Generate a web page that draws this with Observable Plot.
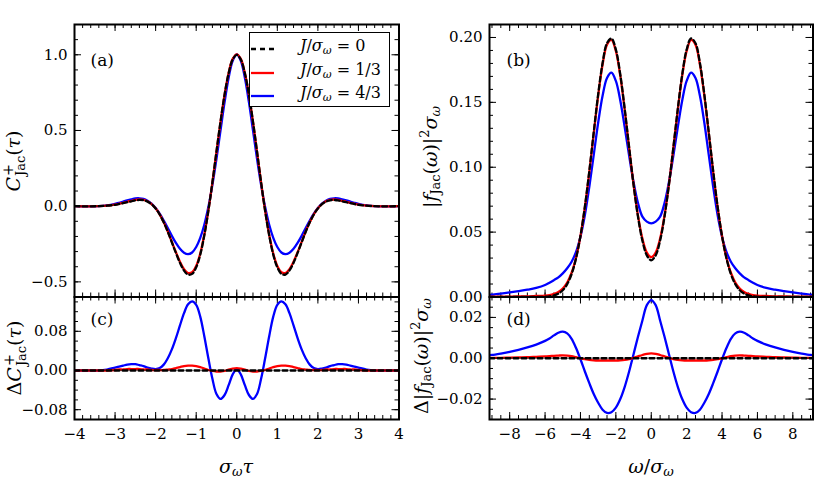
<!DOCTYPE html>
<html><head><meta charset="utf-8">
<script src="https://cdn.jsdelivr.net/npm/d3@7"></script>
<script src="https://cdn.jsdelivr.net/npm/@observablehq/plot@0.6"></script>
<style>
body{margin:0;background:#fff;}
#fig{position:relative;width:830px;height:493px;overflow:hidden;font-family:"DejaVu Serif",serif;background:#fff;}
#fig svg{position:absolute;left:0;top:0;}
.lab{position:absolute;white-space:nowrap;font-size:19px;line-height:1;color:#000;}
.rot{transform:translate(-50%,-50%) rotate(-90deg);}
.hor{transform:translate(-50%,-50%);}
.ss{display:inline-flex;flex-direction:column;vertical-align:middle;font-size:0.68em;line-height:1.0;margin-left:1px;}
.ss span:first-child{font-size:1.1em;}
sub{font-size:0.68em;vertical-align:-0.3em;line-height:0;}
sup{font-size:0.68em;vertical-align:0.55em;line-height:0;}
#legend{position:absolute;left:249px;top:32px;width:141px;height:75px;box-sizing:border-box;border:1.8px solid #000;background:#fff;z-index:5;}
.row{position:absolute;left:0;height:0;width:100%;}
.row svg{position:absolute;left:10px;top:-3px;}
.row .t{position:absolute;left:50px;top:0;transform:translateY(-50%);font-size:16px;line-height:1;white-space:nowrap;}
</style></head>
<body>
<div id="fig"></div>
<script>
// ---------------- data ----------------
const tau = [-4.0,-3.8,-3.6,-3.4,-3.2,-3.0,-2.9,-2.8,-2.7,-2.6,-2.5,-2.4,-2.3,-2.2,-2.1,-2.0,-1.9,-1.8,-1.7,-1.6,-1.5,-1.4,-1.3,-1.2,-1.1,-1.0,-0.9,-0.8,-0.7,-0.6,-0.5,-0.4,-0.3,-0.2,-0.1,0,0.1,0.2,0.3,0.4,0.5,0.6,0.7,0.8,0.9,1.0,1.1,1.2,1.3,1.4,1.5,1.6,1.7,1.8,1.9,2.0,2.1,2.2,2.3,2.4,2.5,2.6,2.7,2.8,2.9,3.0,3.2,3.4,3.6,3.8,4.0];

// (a) C+_Jac(tau), J/sigma = 0, 1/3, 4/3
const aBlack = [0.000,-0.001,-0.001,0.000,0.003,0.009,0.014,0.020,0.026,0.032,0.038,0.041,0.039,0.030,0.013,-0.015,-0.055,-0.107,-0.169,-0.239,-0.309,-0.374,-0.425,-0.452,-0.447,-0.404,-0.320,-0.193,-0.031,0.158,0.361,0.559,0.737,0.878,0.969,1.000,0.969,0.878,0.737,0.559,0.361,0.158,-0.031,-0.193,-0.320,-0.404,-0.447,-0.452,-0.425,-0.374,-0.309,-0.239,-0.169,-0.107,-0.055,-0.015,0.013,0.030,0.039,0.041,0.038,0.032,0.026,0.020,0.014,0.009,0.003,0.000,-0.001,-0.001,0.000];
const aRed = [0.000,-0.001,-0.001,0.000,0.003,0.010,0.016,0.022,0.029,0.035,0.041,0.044,0.041,0.032,0.014,-0.014,-0.054,-0.106,-0.167,-0.236,-0.304,-0.367,-0.416,-0.442,-0.437,-0.395,-0.313,-0.189,-0.030,0.157,0.359,0.557,0.736,0.880,0.973,1.003,0.973,0.880,0.736,0.557,0.359,0.157,-0.030,-0.189,-0.313,-0.395,-0.437,-0.442,-0.416,-0.367,-0.304,-0.236,-0.167,-0.106,-0.054,-0.014,0.014,0.032,0.041,0.044,0.041,0.035,0.029,0.022,0.016,0.010,0.003,0.000,-0.001,-0.001,0.000];
const aBlue = [0.000,-0.001,-0.001,0.000,0.005,0.015,0.022,0.030,0.038,0.045,0.051,0.052,0.048,0.036,0.017,-0.012,-0.050,-0.095,-0.144,-0.196,-0.243,-0.282,-0.308,-0.317,-0.306,-0.270,-0.210,-0.123,-0.006,0.141,0.313,0.501,0.687,0.848,0.961,1.002,0.961,0.848,0.687,0.501,0.313,0.141,-0.006,-0.123,-0.210,-0.270,-0.306,-0.317,-0.308,-0.282,-0.243,-0.196,-0.144,-0.095,-0.050,-0.012,0.017,0.036,0.048,0.052,0.051,0.045,0.038,0.030,0.022,0.015,0.005,0.000,-0.001,-0.001,0.000];

// (c) Delta C+_Jac(tau)
const cZeroT = [-4, 4];
const cZeroV = [0, 0];
const cRed = [0.000,0.000,0.000,0.000,0.000,0.001,0.002,0.002,0.003,0.003,0.003,0.003,0.002,0.002,0.001,0.001,0.001,0.001,0.002,0.003,0.005,0.007,0.009,0.010,0.010,0.009,0.007,0.004,0.001,-0.001,-0.002,-0.002,-0.001,0.002,0.004,0.005,0.004,0.002,-0.001,-0.002,-0.002,-0.001,0.001,0.004,0.007,0.009,0.010,0.010,0.009,0.007,0.005,0.003,0.002,0.001,0.001,0.001,0.001,0.002,0.002,0.003,0.003,0.003,0.003,0.002,0.002,0.001,0.000,0.000,0.000,0.000,0.000];
const cBlue = [0.000,0.000,0.000,0.000,0.002,0.006,0.008,0.010,0.012,0.013,0.013,0.011,0.009,0.006,0.004,0.003,0.005,0.012,0.025,0.043,0.066,0.092,0.117,0.135,0.141,0.134,0.110,0.070,0.025,-0.017,-0.048,-0.058,-0.050,-0.030,-0.008,0.003,-0.008,-0.030,-0.050,-0.058,-0.048,-0.017,0.025,0.070,0.110,0.134,0.141,0.135,0.117,0.092,0.066,0.043,0.025,0.012,0.005,0.003,0.004,0.006,0.009,0.011,0.013,0.013,0.012,0.010,0.008,0.006,0.002,0.000,0.000,0.000,0.000];

const omega = [-9.14,-9,-8.5,-8,-7.5,-7,-6.5,-6,-5.75,-5.5,-5.25,-5,-4.75,-4.5,-4.25,-4,-3.75,-3.5,-3.25,-3,-2.75,-2.5,-2.25,-2,-1.75,-1.5,-1.25,-1,-0.75,-0.5,-0.25,0,0.25,0.5,0.75,1,1.25,1.5,1.75,2,2.25,2.5,2.75,3,3.25,3.5,3.75,4,4.25,4.5,4.75,5,5.25,5.5,5.75,6,6.5,7,7.5,8,8.5,9,9.14];

// (b) |f_Jac(omega)|^2 sigma
const bBlack = [0,0,0,0,0,0,0.0001,0.0002,0.0005,0.0012,0.0026,0.0052,0.0099,0.0177,0.0298,0.0470,0.0697,0.0971,0.1270,0.1561,0.1803,0.1956,0.1993,0.1907,0.1715,0.1450,0.1154,0.0866,0.0619,0.0434,0.0321,0.0283,0.0321,0.0434,0.0619,0.0866,0.1154,0.1450,0.1715,0.1907,0.1993,0.1956,0.1803,0.1561,0.1270,0.0971,0.0697,0.0470,0.0298,0.0177,0.0099,0.0052,0.0026,0.0012,0.0005,0.0002,0.0001,0,0,0,0,0,0];
const bRed = [0.0002,0.0002,0.0002,0.0003,0.0004,0.0005,0.0008,0.0011,0.0015,0.0024,0.0039,0.0066,0.0112,0.0187,0.0303,0.0470,0.0693,0.0963,0.1260,0.1550,0.1792,0.1945,0.1982,0.1896,0.1705,0.1442,0.1150,0.0868,0.0628,0.0450,0.0343,0.0307,0.0343,0.0450,0.0628,0.0868,0.1150,0.1442,0.1705,0.1896,0.1982,0.1945,0.1792,0.1550,0.1260,0.0963,0.0693,0.0470,0.0303,0.0187,0.0112,0.0066,0.0039,0.0024,0.0015,0.0011,0.0008,0.0005,0.0004,0.0003,0.0002,0.0002,0.0002];
const bBlue = [0.0017,0.0019,0.0026,0.0035,0.0045,0.0056,0.0070,0.0092,0.0110,0.0130,0.0151,0.0182,0.0221,0.0272,0.0348,0.0465,0.0632,0.0849,0.1095,0.1343,0.1551,0.1688,0.1729,0.1665,0.1515,0.1310,0.1089,0.0886,0.0724,0.0619,0.0581,0.0568,0.0581,0.0619,0.0724,0.0886,0.1089,0.1310,0.1515,0.1665,0.1729,0.1688,0.1551,0.1343,0.1095,0.0849,0.0632,0.0465,0.0348,0.0272,0.0221,0.0182,0.0151,0.0130,0.0110,0.0092,0.0070,0.0056,0.0045,0.0035,0.0026,0.0019,0.0017];

// (d) Delta |f_Jac(omega)|^2 sigma
const dZeroW = [-9.14, 9.14];
const dZeroV = [0, 0];
const dRed = [0.0002,0.0002,0.0002,0.0003,0.0004,0.0005,0.0007,0.0009,0.0010,0.0012,0.0013,0.0014,0.0013,0.0010,0.0005,0.0000,-0.0004,-0.0008,-0.0010,-0.0011,-0.0011,-0.0011,-0.0011,-0.0011,-0.0010,-0.0008,-0.0004,0.0002,0.0009,0.0016,0.0022,0.0024,0.0022,0.0016,0.0009,0.0002,-0.0004,-0.0008,-0.0010,-0.0011,-0.0011,-0.0011,-0.0011,-0.0011,-0.0010,-0.0008,-0.0004,0.0000,0.0005,0.0010,0.0013,0.0014,0.0013,0.0012,0.0010,0.0009,0.0007,0.0005,0.0004,0.0003,0.0002,0.0002,0.0002];
const dBlue = [0.0015,0.0016,0.0023,0.0031,0.0041,0.0053,0.0067,0.0085,0.0097,0.0112,0.0125,0.0130,0.0122,0.0095,0.0050,-0.0005,-0.0065,-0.0122,-0.0175,-0.0218,-0.0252,-0.0268,-0.0264,-0.0242,-0.0200,-0.0140,-0.0065,0.0020,0.0105,0.0185,0.0260,0.0285,0.0260,0.0185,0.0105,0.0020,-0.0065,-0.0140,-0.0200,-0.0242,-0.0264,-0.0268,-0.0252,-0.0218,-0.0175,-0.0122,-0.0065,-0.0005,0.0050,0.0095,0.0122,0.0130,0.0125,0.0112,0.0097,0.0085,0.0067,0.0053,0.0041,0.0031,0.0023,0.0016,0.0015];

// tick labels
const tauTicks = [-4,-3,-2,-1,0,1,2,3,4];
const omegaTicks = [-8,-6,-4,-2,0,2,4,6,8];
const aYTicks = [-0.5,0.0,0.5,1.0];
const cYTicks = [-0.08,0.00,0.08];
const bYTicks = [0.00,0.05,0.10,0.15,0.20];
const dYTicks = [-0.02,0.00,0.02];
const legendLabels = ["0","1/3","4/3"];

// ---------------- drawing ----------------
const W = 830, H = 493;
const fmt = n => d => (d < -1e-9 ? "\u2212" : "") + Math.abs(d).toFixed(n);
const pairs = (xs, ys) => xs.map((x, i) => ({x, y: ys[i]}));

function panel(o) {
  const pw = o.x1 - o.x0, ph = o.y1 - o.y0;
  const tk = {stroke: "black", strokeWidth: 1};
  const marks = [
    Plot.tickX(o.xMin, {x: d => d, insetTop: ph - 4, ...tk}),
    Plot.tickX(o.xMin, {x: d => d, insetBottom: ph - 4, ...tk}),
    Plot.tickX(o.xMaj, {x: d => d, insetTop: ph - 7, ...tk}),
    Plot.tickX(o.xMaj, {x: d => d, insetBottom: ph - 7, ...tk}),
    Plot.tickY(o.yMin, {y: d => d, insetRight: pw - 4, ...tk}),
    Plot.tickY(o.yMin, {y: d => d, insetLeft: pw - 4, ...tk}),
    Plot.tickY(o.yMaj, {y: d => d, insetRight: pw - 7, ...tk}),
    Plot.tickY(o.yMaj, {y: d => d, insetLeft: pw - 7, ...tk})
  ];
  for (const s of o.series) {
    marks.push(Plot.line(s.data, {x: "x", y: "y", stroke: s.color, strokeWidth: 2.3,
      strokeDasharray: s.dash || null, curve: "catmull-rom", clip: true}));
  }
  marks.push(Plot.frame({stroke: "black", strokeWidth: 2}));
  marks.push(Plot.text([o.label], {text: d => d, frameAnchor: "top-left", textAnchor: "start",
    lineAnchor: "top", dx: o.ldx, dy: o.ldy, fontSize: 17, fill: "black"}));
  marks.push(Plot.axisY({ticks: o.yMaj, tickSize: 0, tickPadding: 7, tickFormat: o.yFmt, label: null, fontSize: 15}));
  if (o.xFmt) marks.push(Plot.axisX({ticks: o.xMaj, tickSize: 0, tickPadding: 9, tickFormat: o.xFmt, label: null, fontSize: 15}));
  return Plot.plot({
    width: W, height: H,
    marginLeft: o.x0, marginRight: W - o.x1, marginTop: o.y0, marginBottom: H - o.y1,
    x: {domain: o.xdom, axis: o.xFmt ? undefined : null},
    y: {domain: o.ydom},
    style: {background: "transparent", fontFamily: "DejaVu Serif", fontSize: "15px", color: "black", overflow: "visible"},
    marks
  });
}

const rng = (a, b, s) => d3.range(Math.round((b - a) / s) + 1).map(i => +(a + i * s).toFixed(4));
const tauMinor = rng(-4, 4, 0.2);
const omegaMinor = rng(-9, 9, 0.5);

const X0L = 74, X1L = 398.5, X0R = 489, X1R = 812.5, YT = 24, YM = 296.5, YB = 419;
const fig = document.getElementById("fig");

fig.appendChild(panel({
  x0: X0L, x1: X1L, y0: YT, y1: YM, xdom: [-4, 4], ydom: [-0.6, 1.2],
  xMaj: tauTicks, xMin: tauMinor, yMaj: aYTicks, yMin: rng(-0.6, 1.2, 0.1),
  yFmt: fmt(1), xFmt: null, label: "(a)", ldx: 16, ldy: 29,
  series: [
    {data: pairs(tau, aBlue), color: "#0000ff"},
    {data: pairs(tau, aRed), color: "#ff0000"},
    {data: pairs(tau, aBlack), color: "#000000", dash: "5,3"}
  ]
}));
fig.appendChild(panel({
  x0: X0L, x1: X1L, y0: YM, y1: YB, xdom: [-4, 4], ydom: [-0.10, 0.15],
  xMaj: tauTicks, xMin: tauMinor, yMaj: cYTicks, yMin: rng(-0.10, 0.14, 0.02),
  yFmt: fmt(2), xFmt: fmt(0), label: "(c)", ldx: 16, ldy: 16.3,
  series: [
    {data: pairs(tau, cBlue), color: "#0000ff"},
    {data: pairs(tau, cRed), color: "#ff0000"},
    {data: pairs(cZeroT, cZeroV), color: "#000000", dash: "5,3"}
  ]
}));
fig.appendChild(panel({
  x0: X0R, x1: X1R, y0: YT, y1: YM, xdom: [-9.14, 9.14], ydom: [0, 0.21],
  xMaj: omegaTicks, xMin: omegaMinor, yMaj: bYTicks, yMin: rng(0, 0.21, 0.01),
  yFmt: fmt(2), xFmt: null, label: "(b)", ldx: 17, ldy: 29,
  series: [
    {data: pairs(omega, bBlue), color: "#0000ff"},
    {data: pairs(omega, bRed), color: "#ff0000"},
    {data: pairs(omega, bBlack), color: "#000000", dash: "5,3"}
  ]
}));
fig.appendChild(panel({
  x0: X0R, x1: X1R, y0: YM, y1: YB, xdom: [-9.14, 9.14], ydom: [-0.03, 0.03],
  xMaj: omegaTicks, xMin: omegaMinor, yMaj: dYTicks, yMin: rng(-0.03, 0.03, 0.005),
  yFmt: fmt(2), xFmt: fmt(0), label: "(d)", ldx: 17, ldy: 16.3,
  series: [
    {data: pairs(omega, dBlue), color: "#0000ff"},
    {data: pairs(omega, dRed), color: "#ff0000"},
    {data: pairs(dZeroW, dZeroV), color: "#000000", dash: "5,3"}
  ]
}));

// axis labels (math-style text)
function addLabel(html, x, y, cls) {
  const d = document.createElement("div");
  d.className = "lab " + cls;
  d.style.left = x + "px"; d.style.top = y + "px";
  d.innerHTML = html;
  fig.appendChild(d);
}
const CJ = '<i>C</i><span class="ss"><span>+</span><span>Jac</span></span>(<i>τ</i>)';
const FJ = '|<i>f</i><sub>Jac</sub>(<i>ω</i>)|<sup>2</sup><i>σ</i><sub><i>ω</i></sub>';
addLabel(CJ, 15, 161, "rot");
addLabel('Δ' + CJ, 16, 358, "rot");
addLabel(FJ, 430, 157, "rot");
addLabel('Δ' + FJ, 421, 356, "rot");
addLabel('<i>σ</i><sub><i>ω</i></sub><i>τ</i>', 236, 466, "hor");
addLabel('<i>ω</i>/<i>σ</i><sub><i>ω</i></sub>', 651, 466, "hor");

// legend
const lg = document.createElement("div");
lg.id = "legend";
const legendStyles = [
  {color: "#000000", dash: "5,4"},
  {color: "#ff0000", dash: null},
  {color: "#0000ff", dash: null}
];
const rowY = [13, 37, 60];
legendLabels.forEach((lab, i) => {
  const r = document.createElement("div");
  r.className = "row";
  r.style.top = rowY[i] + "px";
  const st = legendStyles[i];
  r.innerHTML = `<svg width="25" height="6"><line x1="1" x2="24" y1="3" y2="3" stroke="${st.color}" stroke-width="2.3" ${st.dash ? `stroke-dasharray="${st.dash}"` : ""}/></svg>` +
    `<span class="t"><i>J</i>/<i>σ</i><sub><i>ω</i></sub> = ${lab}</span>`;
  lg.appendChild(r);
});
fig.appendChild(lg);
</script>
</body></html>
